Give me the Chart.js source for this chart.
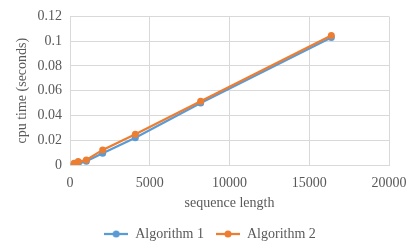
<!DOCTYPE html>
<html>
<head>
<meta charset="utf-8">
<script src="https://cdn.jsdelivr.net/npm/chart.js@4.4.1/dist/chart.umd.min.js"></script>
<style>
  html, body { margin:0; padding:0; background:#fff; }
  #wrap { width:420px; height:252px; }
</style>
</head>
<body>
<div id="wrap"><canvas id="c"></canvas></div>
<script>
// data
const seqLen = [256, 512, 1024, 2048, 4096, 8192, 16384];
const algo1  = [0.0003, 0.001, 0.003, 0.0095, 0.022, 0.050, 0.103];
const algo2  = [0.0015, 0.0028, 0.004, 0.0122, 0.0248, 0.0515, 0.1045];
const xTicks = [0, 5000, 10000, 15000, 20000];
const yTicks = [0, 0.02, 0.04, 0.06, 0.08, 0.1, 0.12];

const BLUE   = '#5B9BD5';
const ORANGE = '#ED7D31';
const TEXT   = '#595959';
const GRID   = '#D9D9D9';
const FONT   = "'Liberation Serif', 'DejaVu Serif', serif";

// legend marker: short line with a dot, like Excel
function marker(color) {
  const c = document.createElement('canvas');
  c.width = 24; c.height = 10;
  const g = c.getContext('2d');
  g.strokeStyle = color; g.lineWidth = 2.25;
  g.beginPath(); g.moveTo(0, 5); g.lineTo(24, 5); g.stroke();
  g.fillStyle = color;
  g.beginPath(); g.arc(12, 5, 3.5, 0, Math.PI * 2); g.fill();
  return c;
}

const pts = ys => seqLen.map((x, i) => ({ x, y: ys[i] }));

new Chart(document.getElementById('c'), {
  type: 'line',
  data: { datasets: [
    { label:'Algorithm 1', data: pts(algo1), borderColor:BLUE, backgroundColor:BLUE, order:1,
      borderWidth:2.25, pointRadius:3.5, pointBorderWidth:0 },
    { label:'Algorithm 2', data: pts(algo2), borderColor:ORANGE, backgroundColor:ORANGE, order:0,
      borderWidth:2.25, pointRadius:3.5, pointBorderWidth:0 },
  ]},
  options: {
    responsive:true, maintainAspectRatio:false, animation:false,
    layout:{ padding:{ left:10, right:10, top:14, bottom:1 } },
    plugins:{
      tooltip:{ enabled:false },
      legend:{ position:'bottom',
        labels:{ color:TEXT, font:{ family:FONT, size:14 }, usePointStyle:true, pointStyleWidth:24, padding:12,
          generateLabels: ch => ch.data.datasets.map((d, i) => ({
            text: d.label, fontColor: TEXT, pointStyle: marker(d.borderColor),
            strokeStyle: d.borderColor, fillStyle: d.borderColor, lineWidth: 0, datasetIndex: i
          })) } }
    },
    scales:{
      x:{ type:'linear', min:0, max:20000,
        afterBuildTicks: ax => { ax.ticks = xTicks.map(v => ({ value:v })); },
        afterFit: ax => { ax.height = 50; },
        grid:{ color:GRID, drawTicks:false, lineWidth:1 },
        border:{ color:GRID },
        ticks:{ color:TEXT, font:{ family:FONT, size:14 }, padding:10, maxRotation:0, callback: v => String(v) },
        title:{ display:true, text:'sequence length', color:TEXT, font:{ family:FONT, size:14 }, padding:{ top:1, bottom:3 } } },
      y:{ min:0, max:0.12,
        afterBuildTicks: ax => { ax.ticks = yTicks.map(v => ({ value:v })); },
        afterFit: ax => { ax.width = 60; },
        grid:{ color:GRID, drawTicks:false, lineWidth:1 },
        border:{ color:GRID },
        ticks:{ color:TEXT, font:{ family:FONT, size:14 }, padding:8, callback: v => String(+v.toFixed(2)) },
        title:{ display:true, text:'cpu time (seconds)', color:TEXT, font:{ family:FONT, size:14 }, padding:{ bottom:3 } } },
      // empty right axis, only to keep the plot's right edge where the reference has it
      yr:{ position:'right', display:true, min:0, max:1,
        afterFit: ax => { ax.width = 21; },
        grid:{ display:false }, border:{ display:false }, ticks:{ display:false } }
    }
  }
});
</script>
</body>
</html>
